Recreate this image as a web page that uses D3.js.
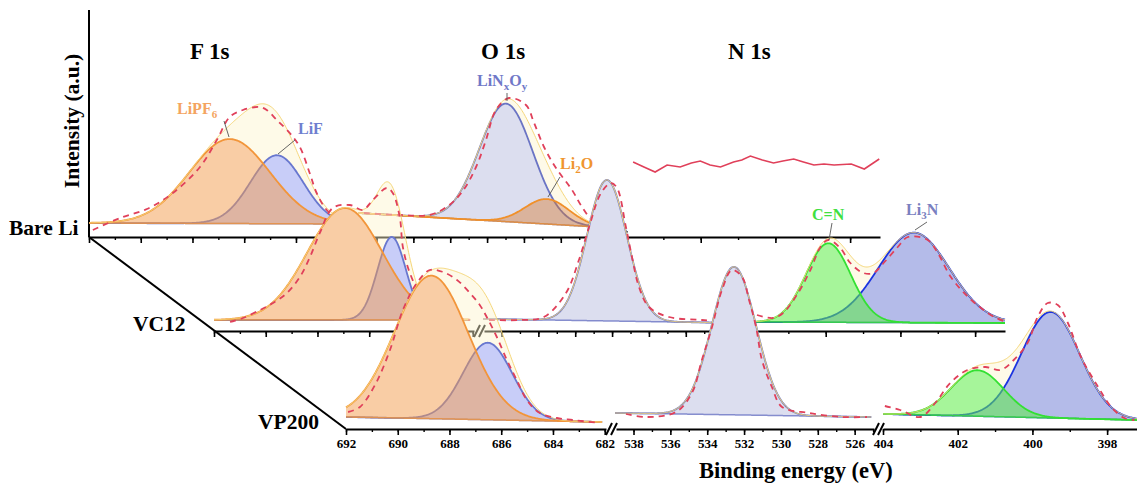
<!DOCTYPE html>
<html><head><meta charset="utf-8">
<script src="https://cdn.jsdelivr.net/npm/d3@7"></script>
<style>
body{margin:0;background:#fff}
svg{display:block}
text{font-family:"Liberation Serif","Times New Roman",serif;font-weight:bold}
</style>
</head><body>
<svg id="chart" width="1137" height="486"></svg>
<script>
// ---------------- DATA ----------------
const samples = ["Bare Li", "VC12", "VP200"];
const regionNames = ["F 1s", "O 1s", "N 1s"];

// axis tick values (eV) per region
const fTicks = [692,691,690,689,688,687,686,685,684,683,682];
const oTicks = [538,537,536,535,534,533,532,531,530,529,528,527,526,525];
const nTicks = [404,403,402,401,400,399,398];
const fLabels = [692,690,688,686,684,682];
const oLabels = [538,536,534,532,530,528,526];
const nLabels = [404,402,400,398];

// energy span of each measured spectrum
const spanF = [692, 682.1];
const spanO = [539, 525.1];
const spanN = [404, 397.2];

// linear backgrounds [start, end] (a.u.) per sample
const bgF = [[14,13],[11,11],[12,7]];
const bgO = [[24,9],[12,8],[16,12]];
const bgN = [null,[9,8],[15,9]];

// fitted components: [sample, component, center (eV), height (a.u.), sigma (eV)]
const peaksF = [
  ["Bare Li","LiF",684.74,68.5,1.02],
  ["Bare Li","LiPF6",686.56,84.5,1.56],
  ["VC12","LiF",685.13,83,0.55],
  ["VC12","LiPF6",686.94,112,1.45],
  ["VP200","LiF",686.52,77,0.95],
  ["VP200","LiPF6",688.7,143,1.42]
];
const peaksO = [
  ["Bare Li","LiNxOy",530.97,118,1.45],
  ["Bare Li","Li2O",528.75,25,1.2],
  ["VC12","LiNxOy",532.28,141,1.08],
  ["VP200","LiNxOy",532.55,148,1.2]
];
const peaksN = [
  ["VC12","Li3N",399.64,90,0.95],
  ["VC12","C=N",401.93,79,0.6],
  ["VP200","Li3N",399.51,106,0.78],
  ["VP200","C=N",401.47,46,0.7]
];

const rawBareF = [[691.85,7],[690.8,19],[689.76,28],[688.76,44],[687.71,70],[687.06,97],[686.56,120],[686.05,127],[685.4,130],[685.13,127],[684.74,117],[684.24,104],[683.85,90],[683.47,64],[683.2,44],[682.81,27],[682.31,17]];
const rawBareO = [[538.68,24],[536.78,22],[535.15,22],[534.2,30],[533.36,45],[532.6,70],[532.06,97],[531.52,127],[530.81,139],[529.89,132],[529.45,114],[528.91,90],[528.26,69],[527.39,47],[526.85,30],[526.3,17],[525.54,10]];
const rawBareN = [[403.81,75],[403.52,70],[403.22,65],[402.9,72],[402.55,70],[402.25,74],[402.01,76],[401.75,72],[401.47,70],[401.12,75],[400.9,77],[400.67,81],[400.35,77],[400.05,74],[399.8,76],[399.51,78],[399.25,75],[398.97,72],[398.7,73],[398.43,72],[397.97,73],[397.62,68],[397.22,78]];
const rawVC12F = [[691.38,9],[690.88,13],[690.22,21],[689.72,28],[689.18,38],[688.68,54],[688.29,74],[687.91,98],[687.41,123],[686.75,126],[686.25,121],[685.86,131],[685.32,143],[685.09,138],[684.82,114],[684.7,84],[684.43,58],[684.05,38],[683.54,24],[683.0,18],[682.5,13],[682.12,11]];
const rawVC12O = [[538.68,11],[537.05,11],[535.7,14],[534.5,38],[533.8,71],[533.25,104],[532.6,138],[532.06,148],[531.73,143],[531.25,104],[530.92,74],[530.54,44],[530.0,24],[528.91,14],[527.12,11],[525.65,9]];
const rawVC12N = [[403.84,16],[403.41,13],[403.14,18],[402.74,38],[402.41,61],[402.14,84],[401.93,91],[401.61,83],[401.34,68],[400.99,58],[400.72,58],[400.45,68],[400.07,84],[399.8,94],[399.27,91],[399.0,78],[398.65,54],[398.19,34],[397.84,23],[397.49,14],[397.17,9]];
const rawVP200F = [[691.92,17],[691.46,22],[690.88,44],[690.3,79],[689.8,119],[689.26,146],[688.76,159],[688.25,157],[687.71,149],[687.21,136],[686.83,124],[686.56,112],[686.17,92],[685.78,69],[685.4,49],[685.01,29],[684.51,16],[683.85,11],[683.24,9],[682.19,6]];
const rawVP200O = [[538.41,15],[537.33,12],[535.7,17],[534.83,36],[534.29,69],[533.74,102],[533.2,139],[532.66,159],[532.11,152],[531.73,129],[531.35,102],[531.03,69],[530.49,42],[529.94,22],[528.48,16],[526.68,12],[525.33,12]];
const rawVP200N = [[403.95,23],[403.54,19],[403.0,12],[402.6,26],[402.2,46],[401.74,59],[401.26,62],[400.85,59],[400.5,69],[400.13,86],[399.86,112],[399.59,126],[399.32,124],[399.05,106],[398.7,72],[398.24,42],[397.89,22],[397.54,11],[397.27,9]];

// ---------------- STYLE / LAYOUT ----------------
const styles = {
  "LiPF6": {stroke:"#f2953a", fill:"rgba(243,155,75,0.5)"},
  "LiF":   {stroke:"#6877cf", fill:"rgba(133,144,239,0.45)"},
  "LiNxOy":{stroke:"#6a74c4", fill:"rgba(185,189,223,0.5)"},
  "Li2O":  {stroke:"#f0902a", fill:"rgba(215,120,40,0.42)"},
  "C=N":   {stroke:"#33e033", fill:"rgba(93,236,71,0.55)"},
  "Li3N":  {stroke:"#1c34e0", fill:"rgba(105,119,211,0.5)"}
};
const rowX = [89, 214, 346];
const rowY = [237, 331, 429];
const segPx  = {F:[0,260], O:[270,528], N:[537,791]};
const segDom = {F:[692,681.95], O:[538.95,524.95], N:[404,397.2]};

const svg = d3.select("#chart");
const y = d3.scaleLinear().domain([0, 200]).range([0, -200]);
const xs = {
  F: d3.scaleLinear().domain(segDom.F).range(segPx.F),
  O: d3.scaleLinear().domain(segDom.O).range(segPx.O),
  N: d3.scaleLinear().domain(segDom.N).range(segPx.N)
};
const spans = {F:spanF, O:spanO, N:spanN};
const bgs = {F:bgF, O:bgO, N:bgN};
const peaks = {F:peaksF, O:peaksO, N:peaksN};
const raws = {
  F:[rawBareF, rawVC12F, rawVP200F],
  O:[rawBareO, rawVC12O, rawVP200O],
  N:[rawBareN, rawVC12N, rawVP200N]
};
const ticks = {F:fTicks, O:oTicks, N:nTicks};
const labels = {F:fLabels, O:oLabels, N:nLabels};

const gauss = (e, c, h, s) => h * Math.exp(-((e - c) ** 2) / (2 * s * s));

// static axes: vertical + diagonal
svg.append("line").attr("x1", rowX[0]).attr("y1", 10).attr("x2", rowX[0]).attr("y2", rowY[0])
  .attr("stroke", "#000").attr("stroke-width", 2);
svg.append("line").attr("x1", rowX[0]).attr("y1", rowY[0]).attr("x2", rowX[2]).attr("y2", rowY[2])
  .attr("stroke", "#000").attr("stroke-width", 2);

samples.forEach((sample, r) => {
  const g = svg.append("g").attr("transform", `translate(${rowX[r]},${rowY[r]})`);
  ["F", "O", "N"].forEach(reg => {
    const x = xs[reg];
    const span = spans[reg];
    const bgPair = bgs[reg][r];
    const comps = peaks[reg].filter(p => p[0] === sample);
    if (bgPair && comps.length) {
      const bg = d3.scaleLinear().domain(span).range(bgPair);
      const es = d3.range(0, 301).map(i => span[0] + (span[1] - span[0]) * i / 300);
      const env = es.map(e => ({e, bg: bg(e), v: d3.sum(comps, p => gauss(e, p[2], p[3], p[4]))}));
      const top = es.map(e => ({e, bg: bg(e), v: d3.max(comps, p => gauss(e, p[2], p[3], p[4]))}));
      const areaGen = d3.area().x(d => x(d.e)).y0(d => y(d.bg)).y1(d => y(d.bg + d.v));
      // envelope fill
      g.append("path").datum(env).attr("d", areaGen).attr("fill", "rgba(253,245,205,0.45)");
      // white mask under the components
      g.append("path").datum(top).attr("d", areaGen).attr("fill", "#fff");
      comps.forEach(p => {
        const st = styles[p[1]];
        const pts = es.map(e => ({e, bg: bg(e), v: gauss(e, p[2], p[3], p[4])}));
        g.append("path").datum(pts).attr("d", areaGen).attr("fill", st.fill);
        g.append("path").datum(pts)
          .attr("d", d3.line().x(d => x(d.e)).y(d => y(d.bg + d.v)))
          .attr("fill", "none").attr("stroke", st.stroke).attr("stroke-width", 1.8);
        g.append("path").datum(pts)
          .attr("d", d3.line().x(d => x(d.e)).y(d => y(d.bg)))
          .attr("fill", "none").attr("stroke", st.stroke).attr("stroke-width", 1.5).attr("opacity", 0.8);
      });
      g.append("path").datum(env)
        .attr("d", d3.line().x(d => x(d.e)).y(d => y(d.bg + d.v)))
        .attr("fill", "none").attr("stroke", "#f6d77a").attr("stroke-width", 1);
      g.append("path").datum(raws[reg][r])
        .attr("d", d3.line().x(d => x(d[0])).y(d => y(d[1])).curve(d3.curveCatmullRom))
        .attr("fill", "none").attr("stroke", "#e0405a").attr("stroke-width", 1.8)
        .attr("stroke-dasharray", "6,5");
    } else {
      // raw survey line without fit
      g.append("path").datum(raws[reg][r])
        .attr("d", d3.line().x(d => x(d[0])).y(d => y(d[1])))
        .attr("fill", "none").attr("stroke", "#e0405a").attr("stroke-width", 1.6);
    }
  });

  // axes per segment
  ["F", "O", "N"].forEach(reg => {
    const x = xs[reg];
    const minorAx = g.append("g").call(
      d3.axisBottom(x).tickValues(ticks[reg]).tickSize(3).tickSizeOuter(0).tickFormat(""));
    minorAx.select(".domain").attr("stroke-width", 2);
    minorAx.selectAll(".tick line").attr("stroke-width", 1.4);
    const majorAx = g.append("g").call(
      d3.axisBottom(x).tickValues(labels[reg]).tickSize(6).tickSizeOuter(0).tickPadding(4)
        .tickFormat(r === 2 ? d3.format("d") : ""));
    majorAx.select(".domain").remove();
    majorAx.selectAll(".tick line").attr("stroke-width", 1.6);
    majorAx.selectAll(".tick text").attr("font-size", 13).attr("fill", "#000")
      .attr("font-family", "Liberation Serif, serif").attr("font-weight", "bold");
  });
  // break marks
  [263, 268, 530, 535].forEach(bx => {
    g.append("line").attr("x1", bx - 3).attr("y1", 6).attr("x2", bx + 3).attr("y2", -6)
      .attr("stroke", "#000").attr("stroke-width", 2);
  });
});

// row labels
const rowLabelPos = [[9, 235], [133, 331], [258, 429]];
samples.forEach((s, i) => {
  svg.append("text").attr("x", rowLabelPos[i][0]).attr("y", rowLabelPos[i][1])
    .attr("font-size", 21.5).text(s);
});

// region titles
const titlePos = [[190, 59], [481, 59], [728, 59]];
regionNames.forEach((s, i) => {
  svg.append("text").attr("x", titlePos[i][0]).attr("y", titlePos[i][1])
    .attr("font-size", 23).text(s);
});

// axis titles
svg.append("text").attr("transform", "translate(79,121) rotate(-90)")
  .attr("text-anchor", "middle").attr("font-size", 21.5).text("Intensity (a.u.)");
svg.append("text").attr("x", 699).attr("y", 478).attr("font-size", 22.5).text("Binding energy (eV)");

// component annotations
function ann(parts, x, yy, color, lx1, ly1, lx2, ly2) {
  const t = svg.append("text").attr("x", x).attr("y", yy).attr("font-size", 16).attr("fill", color);
  parts.forEach(([s, sub, dy]) => {
    const sp = t.append("tspan").text(s);
    if (dy) sp.attr("dy", dy);
    if (sub) sp.attr("font-size", 11);
  });
  svg.append("line").attr("x1", lx1).attr("y1", ly1).attr("x2", lx2).attr("y2", ly2)
    .attr("stroke", "#555").attr("stroke-width", 0.9);
}
ann([["LiPF", false, 0], ["6", true, 4]], 177, 114, "#f4a460", 224, 121, 229, 137);
ann([["LiF", false, 0]], 298, 134, "#6f7fd0", 295, 140, 278, 154);
ann([["LiN", false, 0], ["x", true, 4], ["O", false, -4], ["y", true, 4]], 477, 86, "#7078c8", 507, 93, 507, 101);
ann([["Li", false, 0], ["2", true, 4], ["O", false, -4]], 560, 169, "#f0952f", 560, 177, 548, 197);
ann([["C=N", false, 0]], 812, 220, "#40e040", 832, 223, 829, 240);
ann([["Li", false, 0], ["3", true, 4], ["N", false, -4]], 906, 215, "#7a80c0", 927, 222, 915, 230);
</script>
</body></html>
